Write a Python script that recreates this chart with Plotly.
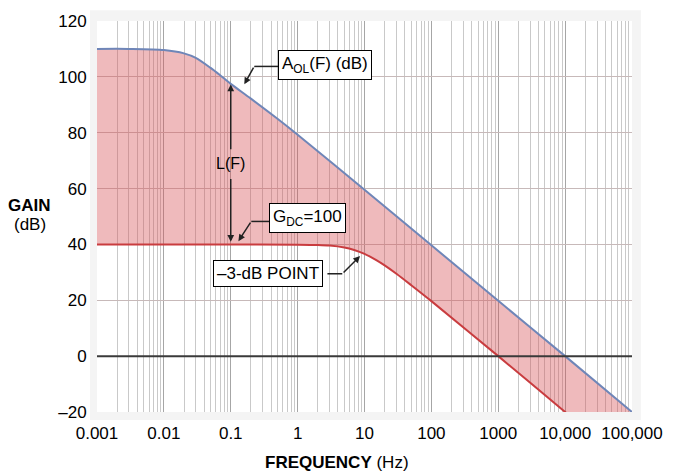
import plotly.graph_objects as go

# Open-loop gain A_OL(F), read at selected frequencies (Hz, dB)
freq_ol = [0.001, 0.003, 0.01, 0.02, 0.03, 0.05, 0.07, 0.1, 0.2, 0.5, 1, 10, 100, 1000, 10000, 100000]
gain_ol = [110, 110, 109.6, 108.4, 106.8, 103.2, 100.5, 97.5, 92.2, 85.0, 79.3, 59.6, 39.7, 19.8, 0, -20]

# Closed-loop gain with G_DC = 100 (40 dB)
freq_cl = [0.001, 0.1, 1, 2, 3, 5, 7, 10, 15, 20, 30, 50, 100, 1000, 10000, 100000]
gain_cl = [40, 40, 39.9, 39.8, 39.6, 38.9, 38.0, 36.6, 34.4, 32.5, 29.5, 25.4, 19.7, 0, -20, -40]

x_tickvals = [0.001, 0.01, 0.1, 1, 10, 100, 1000, 10000, 100000]
x_ticktext = ["0.001", "0.01", "0.1", "1", "10", "100", "1000", "10,000", "100,000"]
y_tickvals = [-20, 0, 20, 40, 60, 80, 100, 120]
y_ticktext = ["\u201320", "0", "20", "40", "60", "80", "100", "120"]

W, H = 675, 475
ML, MR, MT, MB = 97, 37, 16, 63
PW, PH = W - ML - MR, H - MT - MB
FONT = "Liberation Sans, Arial, Helvetica, sans-serif"


def px(x):
    return (x - ML) / PW


def py(y):
    return (H - MB - y) / PH


fig = go.Figure()
fig.add_trace(go.Scatter(
    x=freq_ol, y=gain_ol, mode="lines",
    line=dict(color="#6f86b8", width=2, shape="spline", smoothing=0.8),
    hoverinfo="skip", showlegend=False,
))
fig.add_trace(go.Scatter(
    x=freq_cl, y=gain_cl, mode="lines", fill="tonexty",
    fillcolor="rgba(214,82,88,0.40)",
    line=dict(color="#c93c3f", width=2, shape="spline", smoothing=0.8),
    hoverinfo="skip", showlegend=False,
))

shapes = [
    # faint frame around the plotting area
    dict(type="rect", xref="paper", yref="paper", x0=px(ML - 7), x1=px(W - MR + 9),
         y0=py(H - MB + 8), y1=py(MT - 11), fillcolor="#f4f4f4", line=dict(width=0), layer="below"),
    dict(type="rect", xref="paper", yref="paper", x0=0, x1=1, y0=0, y1=1,
         fillcolor="white", line=dict(width=0), layer="below"),
    # 0-dB reference line
    dict(type="line", xref="paper", yref="y", x0=0, x1=1, y0=0, y1=0,
         line=dict(color="#3a3a3a", width=2), layer="above"),
    # leader elbows
    dict(type="line", xref="paper", yref="paper", x0=px(281), x1=px(256), y0=py(62), y1=py(62),
         line=dict(color="#222", width=1.5)),
    dict(type="line", xref="paper", yref="paper", x0=px(273), x1=px(253), y0=py(219), y1=py(219),
         line=dict(color="#222", width=1.5)),
    dict(type="line", xref="paper", yref="paper", x0=px(330), x1=px(345), y0=py(272), y1=py(272),
         line=dict(color="#222", width=1.5)),
]

box = dict(showarrow=False, bgcolor="white", bordercolor="black", borderwidth=1,
           borderpad=3, xanchor="center", yanchor="middle",
           font=dict(family=FONT, size=17, color="black"))


def leader(x0, y0, x1, y1):
    return dict(xref="paper", yref="paper", x=px(x1), y=py(y1), ax=x0 - x1, ay=y0 - y1,
                axref="pixel", ayref="pixel", text="", showarrow=True,
                arrowhead=2, arrowsize=0.9, arrowwidth=1.5, arrowcolor="#222", standoff=0)


def label(x, y, text, size=17):
    return dict(xref="paper", yref="paper", x=px(x), y=py(y), text=text, showarrow=False,
                xanchor="center", yanchor="middle",
                font=dict(family=FONT, size=size, color="black"))


annotations = [
    dict(xref="paper", yref="paper", x=px(328), y=py(61), text="A<sub>OL</sub>(F) (dB)", **box),
    dict(xref="paper", yref="paper", x=px(310), y=py(216), text="G<sub>DC</sub>=100", **box),
    dict(xref="paper", yref="paper", x=px(270), y=py(272), text="\u20133-dB POINT", **box),
    leader(256, 62, 246, 80),
    leader(253, 219, 240, 239),
    leader(345, 272, 363, 254),
    # L(F) double-headed marker at 0.1 Hz
    dict(xref="x", yref="y", x=-1, y=97.3, axref="x", ayref="y", ax=-1, ay=73.5, text="",
         showarrow=True, arrowhead=2, arrowsize=0.9, arrowwidth=1.5, arrowcolor="#222", standoff=0),
    dict(xref="x", yref="y", x=-1, y=41, axref="x", ayref="y", ax=-1, ay=64, text="",
         showarrow=True, arrowhead=2, arrowsize=0.9, arrowwidth=1.5, arrowcolor="#222", standoff=0),
    dict(xref="x", yref="y", x=-1, y=68.8, text="L(F)", showarrow=False,
         xanchor="center", yanchor="middle",
         font=dict(family=FONT, size=16, color="black")),
    # axis titles
    label(29, 203, "<b>GAIN</b>"),
    label(29, 222, "(dB)"),
    label(340, 463, "<b>FREQUENCY</b> (Hz)"),
]

fig.update_layout(
    width=W, height=H,
    margin=dict(l=ML, r=MR, t=MT, b=MB),
    paper_bgcolor="white", plot_bgcolor="white",
    shapes=shapes, annotations=annotations,
    font=dict(family=FONT, size=17, color="black"),
)
fig.update_xaxes(
    type="log", range=[-3, 5], tickvals=x_tickvals, ticktext=x_ticktext,
    showgrid=True, gridcolor="#a6a6a6", gridwidth=1,
    minor=dict(dtick="D1", showgrid=True, gridcolor="#c9c9c9", gridwidth=1),
    ticks="outside", ticklen=6, tickcolor="rgba(0,0,0,0)",
    showline=False, zeroline=False, tickfont=dict(size=17),
)
fig.update_yaxes(
    range=[-20, 120], tickvals=y_tickvals, ticktext=y_ticktext,
    showgrid=True, gridcolor="#c7b9b9", gridwidth=1,
    ticks="outside", ticklen=6, tickcolor="rgba(0,0,0,0)",
    showline=False, zeroline=False, tickfont=dict(size=17),
)

fig.write_html("out.html")
